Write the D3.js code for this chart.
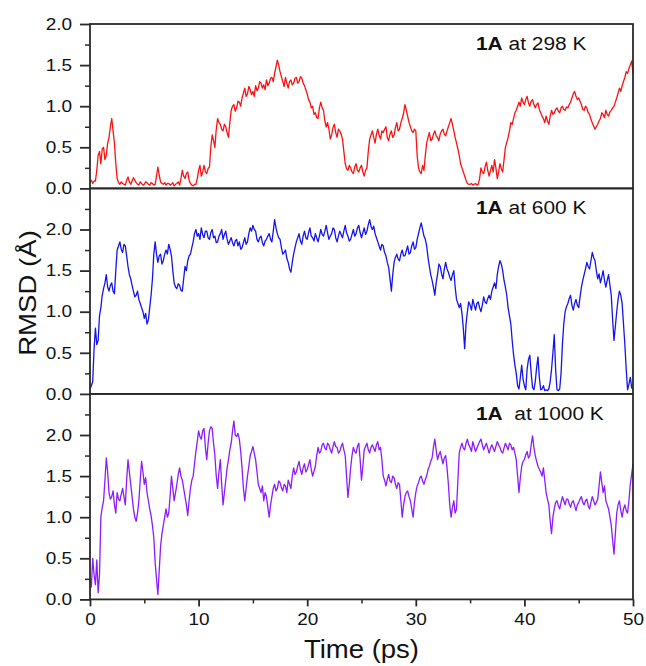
<!DOCTYPE html>
<html>
<head>
<meta charset="utf-8">
<script src="https://cdn.jsdelivr.net/npm/d3@7"></script>
<style>
  body { margin: 0; background: #fff; }
  text { font-family: "Liberation Sans", Arial, sans-serif; }
</style>
</head>
<body>
<script>
const timeStep = 0.125;

const rmsd298 = [
  0.08, 0.10, 0.06, 0.09, 0.09, 0.22, 0.40, 0.45,
  0.30, 0.48, 0.50, 0.35, 0.40, 0.55, 0.62, 0.75,
  0.85, 0.70, 0.55, 0.30, 0.12, 0.07, 0.05, 0.08,
  0.06, 0.05, 0.04, 0.10, 0.14, 0.08, 0.05, 0.09,
  0.13, 0.10, 0.07, 0.05, 0.04, 0.08, 0.06, 0.04,
  0.05, 0.08, 0.07, 0.05, 0.04, 0.07, 0.06, 0.04,
  0.05, 0.15, 0.26, 0.16, 0.08, 0.06, 0.05, 0.07,
  0.04, 0.06, 0.06, 0.04, 0.05, 0.07, 0.03, 0.05,
  0.06, 0.08, 0.04, 0.12, 0.22, 0.15, 0.12, 0.18,
  0.20, 0.10, 0.06, 0.04, 0.03, 0.05, 0.05, 0.12,
  0.22, 0.28, 0.15, 0.20, 0.28, 0.20, 0.18, 0.24,
  0.26, 0.50, 0.65, 0.58, 0.50, 0.72, 0.85, 0.80,
  0.78, 0.72, 0.70, 0.78, 0.75, 0.68, 0.62, 0.80,
  0.95, 1.00, 1.02, 0.94, 0.98, 1.06, 1.05, 1.00,
  1.10, 1.16, 1.22, 1.12, 1.15, 1.24, 1.20, 1.14,
  1.18, 1.12, 1.25, 1.19, 1.22, 1.30, 1.28, 1.22,
  1.26, 1.20, 1.32, 1.25, 1.28, 1.34, 1.35, 1.30,
  1.40, 1.48, 1.56, 1.50, 1.42, 1.36, 1.30, 1.24,
  1.35, 1.28, 1.22, 1.30, 1.32, 1.26, 1.28, 1.34,
  1.35, 1.28, 1.30, 1.36, 1.34, 1.28, 1.25, 1.20,
  1.15, 1.08, 1.05, 0.98, 1.00, 0.90, 0.92, 0.86,
  0.85, 0.98, 1.05, 0.98, 0.95, 0.82, 0.75, 0.80,
  0.72, 0.60, 0.65, 0.74, 0.78, 0.68, 0.62, 0.72,
  0.70, 0.66, 0.60, 0.45, 0.30, 0.24, 0.22, 0.28,
  0.25, 0.20, 0.18, 0.26, 0.30, 0.22, 0.20, 0.25,
  0.28, 0.20, 0.15, 0.22, 0.25, 0.45, 0.60, 0.65,
  0.70, 0.62, 0.55, 0.66, 0.72, 0.65, 0.60, 0.70,
  0.68, 0.72, 0.75, 0.62, 0.58, 0.66, 0.70, 0.62,
  0.65, 0.74, 0.80, 0.70, 0.72, 0.80, 0.85, 0.92,
  1.02, 0.95, 0.88, 0.80, 0.75, 0.70, 0.68, 0.72,
  0.70, 0.40, 0.25, 0.20, 0.18, 0.28, 0.22, 0.40,
  0.55, 0.62, 0.68, 0.58, 0.60, 0.66, 0.70, 0.64,
  0.62, 0.58, 0.66, 0.70, 0.72, 0.66, 0.64, 0.70,
  0.75, 0.80, 0.85, 0.78, 0.70, 0.62, 0.55, 0.48,
  0.40, 0.30, 0.25, 0.20, 0.15, 0.10, 0.06, 0.05,
  0.05, 0.06, 0.04, 0.05, 0.06, 0.04, 0.05, 0.12,
  0.25, 0.20, 0.18, 0.26, 0.32, 0.22, 0.15, 0.22,
  0.28, 0.20, 0.35, 0.25, 0.12, 0.20, 0.30, 0.24,
  0.20, 0.35, 0.50, 0.56, 0.62, 0.70, 0.80, 0.78,
  0.85, 0.92, 0.95, 1.00, 1.05, 1.00, 1.10, 1.05,
  1.02, 1.08, 1.12, 1.04, 1.00, 1.06, 1.08, 1.02,
  0.98, 1.02, 1.04, 0.96, 0.92, 0.88, 0.85, 0.80,
  0.88, 0.82, 0.78, 0.88, 0.95, 0.90, 0.92, 0.96,
  0.98, 0.94, 0.92, 0.98, 1.00, 0.96, 0.95, 0.99,
  0.98, 1.02, 1.05, 1.10, 1.15, 1.18, 1.12, 1.08,
  1.10, 1.06, 1.02, 0.96, 0.95, 1.00, 0.98, 0.92,
  0.90, 0.84, 0.80, 0.76, 0.72, 0.75, 0.78, 0.82,
  0.85, 0.92, 0.90, 0.86, 0.95, 0.90, 0.88, 0.93,
  0.95, 0.98, 1.00, 1.05, 1.10, 1.16, 1.22, 1.18,
  1.25, 1.30, 1.35, 1.42, 1.40, 1.46, 1.50, 1.55,
  1.40
];

const rmsd600 = [
  0.06, 0.10, 0.15, 0.55, 0.80, 0.60, 0.65, 0.95,
  1.05, 1.20, 1.28, 1.35, 1.45, 1.30, 1.25, 1.32,
  1.35, 1.25, 1.22, 1.50, 1.75, 1.80, 1.85, 1.76,
  1.72, 1.82, 1.80, 1.68, 1.55, 1.45, 1.40, 1.32,
  1.25, 1.18, 1.20, 1.25, 1.15, 1.10, 1.05, 1.00,
  0.92, 0.98, 0.85, 0.90, 1.05, 1.20, 1.40, 1.70,
  1.85, 1.70, 1.60, 1.68, 1.70, 1.58, 1.62, 1.70,
  1.75, 1.70, 1.82, 1.76, 1.68, 1.50, 1.35, 1.30,
  1.28, 1.34, 1.32, 1.26, 1.25, 1.40, 1.55, 1.50,
  1.62, 1.68, 1.70, 1.78, 1.85, 1.95, 2.00, 1.92,
  1.95, 1.88, 2.02, 1.94, 1.90, 1.98, 1.98, 1.90,
  1.88, 1.96, 2.00, 1.90, 1.92, 1.84, 1.85, 1.92,
  1.95, 2.00, 1.88, 1.94, 1.98, 1.88, 1.82, 1.86,
  1.90, 1.84, 1.80, 1.86, 1.88, 1.80, 1.85, 1.76,
  1.78, 1.84, 1.90, 1.82, 1.85, 1.95, 2.02, 1.98,
  2.05, 2.00, 1.98, 1.88, 1.85, 1.90, 1.92, 1.84,
  1.80, 1.86, 1.88, 1.92, 1.95, 1.88, 1.85, 1.98,
  2.12, 2.02, 1.95, 1.90, 1.88, 1.78, 1.70, 1.72,
  1.75, 1.65, 1.60, 1.52, 1.48, 1.60, 1.70, 1.78,
  1.85, 1.90, 1.95, 1.86, 1.82, 1.92, 1.98, 1.90,
  1.88, 1.96, 2.02, 1.92, 1.90, 1.86, 1.95, 1.90,
  1.85, 1.92, 2.00, 1.94, 1.92, 1.98, 2.05, 1.96,
  1.88, 1.92, 1.95, 2.02, 2.00, 1.90, 1.85, 1.92,
  1.98, 1.94, 1.90, 1.98, 2.05, 1.96, 1.92, 1.86,
  1.88, 1.94, 2.00, 1.92, 1.95, 2.02, 2.05, 1.96,
  1.90, 1.96, 2.02, 1.94, 1.98, 2.06, 2.12, 2.04,
  2.00, 2.04, 1.95, 1.90, 1.85, 1.80, 1.75, 1.82,
  1.80, 1.72, 1.68, 1.60, 1.54, 1.40, 1.25, 1.45,
  1.60, 1.66, 1.70, 1.64, 1.62, 1.70, 1.75, 1.68,
  1.68, 1.74, 1.80, 1.70, 1.72, 1.80, 1.85, 1.76,
  1.78, 1.88, 1.95, 2.02, 2.08, 2.00, 1.92, 1.88,
  1.80, 1.66, 1.55, 1.45, 1.38, 1.30, 1.20, 1.35,
  1.45, 1.58, 1.55, 1.46, 1.40, 1.52, 1.60, 1.52,
  1.48, 1.42, 1.38, 1.45, 1.50, 1.30, 1.15, 1.10,
  1.05, 1.10, 0.98, 0.80, 0.55, 0.85, 1.00, 1.12,
  1.08, 1.02, 1.15, 1.08, 1.02, 1.10, 1.12, 1.05,
  1.00, 1.08, 1.18, 1.12, 1.10, 1.16, 1.20, 1.15,
  1.25, 1.30, 1.35, 1.28, 1.45, 1.55, 1.62, 1.58,
  1.50, 1.38, 1.30, 1.20, 1.05, 0.95, 0.85, 0.65,
  0.48, 0.35, 0.25, 0.10, 0.06, 0.20, 0.35, 0.18,
  0.10, 0.05, 0.30, 0.42, 0.47, 0.25, 0.08, 0.05,
  0.15, 0.32, 0.45, 0.20, 0.05, 0.06, 0.10, 0.04,
  0.05, 0.04, 0.06, 0.15, 0.30, 0.50, 0.72, 0.30,
  0.05, 0.04, 0.06, 0.25, 0.60, 0.85, 1.00, 1.06,
  1.10, 1.16, 1.20, 1.08, 1.02, 1.10, 1.15, 1.08,
  1.05, 1.18, 1.30, 1.38, 1.45, 1.52, 1.60, 1.55,
  1.52, 1.62, 1.72, 1.66, 1.62, 1.50, 1.40, 1.46,
  1.35, 1.42, 1.50, 1.38, 1.30, 1.38, 1.45, 1.32,
  1.20, 0.90, 0.65, 0.82, 1.00, 1.15, 1.25, 1.20,
  1.10, 0.85, 0.60, 0.30, 0.05, 0.12, 0.20, 0.08,
  0.05
];

const rmsd1000 = [
  0.25, 0.15, 0.50, 0.30, 0.18, 0.48, 0.08, 0.30,
  1.00, 1.12, 1.20, 1.45, 1.72, 1.55, 1.30, 1.22,
  1.25, 1.32, 1.15, 1.05, 1.30, 1.22, 1.20, 1.28,
  1.35, 1.25, 1.15, 1.45, 1.70, 1.55, 1.40, 1.25,
  1.10, 1.00, 0.95, 1.05, 1.20, 1.45, 1.68, 1.55,
  1.40, 1.48, 1.30, 1.20, 1.10, 1.02, 0.90, 0.75,
  0.45, 0.25, 0.06, 0.35, 0.65, 0.80, 0.90, 1.00,
  1.10, 1.00, 1.05, 1.25, 1.50, 1.35, 1.20, 1.30,
  1.40, 1.52, 1.60, 1.50, 1.45, 1.35, 1.25, 1.15,
  1.02, 1.20, 1.35, 1.45, 1.50, 1.65, 1.80, 1.92,
  2.05, 1.98, 1.95, 2.05, 2.08, 1.85, 1.70, 1.90,
  2.05, 2.10, 2.08, 1.90, 1.75, 1.50, 1.35, 1.55,
  1.70, 1.40, 1.15, 1.30, 1.45, 1.60, 1.70, 1.82,
  1.90, 2.05, 2.17, 2.00, 1.98, 2.02, 1.95, 1.80,
  1.60, 1.35, 1.20, 1.35, 1.50, 1.62, 1.75, 1.80,
  1.86, 1.78, 1.70, 1.55, 1.40, 1.35, 1.30, 1.38,
  1.20, 1.30, 1.25, 1.12, 1.00, 1.15, 1.25, 1.35,
  1.40, 1.32, 1.35, 1.44, 1.42, 1.36, 1.32, 1.40,
  1.38, 1.30, 1.45, 1.40, 1.35, 1.50, 1.60, 1.52,
  1.55, 1.62, 1.68, 1.58, 1.52, 1.60, 1.65, 1.55,
  1.58, 1.64, 1.70, 1.58, 1.50, 1.56, 1.62, 1.75,
  1.85, 1.78, 1.80, 1.88, 1.90, 1.84, 1.82, 1.90,
  1.88, 1.82, 1.78, 1.86, 1.92, 1.86, 1.85, 1.78,
  1.80, 1.86, 1.90, 1.82, 1.75, 1.50, 1.24, 1.40,
  1.60, 1.75, 1.85, 1.80, 1.78, 1.86, 1.90, 1.70,
  1.45, 1.62, 1.82, 1.86, 1.90, 1.82, 1.78, 1.85,
  1.88, 1.84, 1.80, 1.88, 1.92, 1.82, 1.85, 1.70,
  1.50, 1.45, 1.38, 1.46, 1.52, 1.44, 1.42, 1.50,
  1.48, 1.40, 1.35, 1.42, 1.40, 1.20, 1.00, 1.15,
  1.25, 1.30, 1.32, 1.25, 1.20, 1.10, 1.00, 1.18,
  1.30, 1.38, 1.42, 1.48, 1.50, 1.44, 1.40, 1.46,
  1.50, 1.58, 1.62, 1.68, 1.72, 1.85, 1.95, 1.82,
  1.70, 1.76, 1.80, 1.72, 1.65, 1.72, 1.75, 1.60,
  1.40, 1.15, 1.00, 1.12, 1.20, 1.05, 1.10, 1.45,
  1.78, 1.85, 1.90, 1.84, 1.82, 1.90, 1.95, 1.88,
  1.85, 1.80, 1.92, 1.86, 1.80, 1.84, 1.88, 1.92,
  1.95, 1.88, 1.82, 1.86, 1.90, 1.84, 1.78, 1.84,
  1.88, 1.84, 1.80, 1.86, 1.92, 1.88, 1.85, 1.80,
  1.78, 1.84, 1.90, 1.86, 1.82, 1.90, 1.88, 1.82,
  1.85, 1.78, 1.70, 1.50, 1.30, 1.48, 1.62, 1.68,
  1.70, 1.76, 1.80, 1.72, 1.75, 1.88, 1.99, 1.85,
  1.75, 1.68, 1.62, 1.58, 1.55, 1.50, 1.60, 1.45,
  1.30, 1.22, 1.15, 0.95, 0.80, 1.00, 1.10, 1.18,
  1.20, 1.14, 1.10, 1.18, 1.25, 1.20, 1.15, 1.22,
  1.22, 1.16, 1.12, 1.18, 1.20, 1.14, 1.08, 1.15,
  1.18, 1.22, 1.25, 1.18, 1.15, 1.20, 1.22, 1.14,
  1.10, 1.18, 1.25, 1.20, 1.15, 1.18, 1.22, 1.38,
  1.55, 1.42, 1.30, 1.38, 1.20, 1.15, 1.10, 1.00,
  0.90, 0.72, 0.55, 0.80, 1.05, 1.15, 1.20, 1.08,
  1.00, 1.10, 1.15, 1.08, 1.05, 1.20, 1.40, 1.52,
  1.65
];

const panelSeries = [rmsd298, rmsd600, rmsd1000];
const panelColours = ['#ff1010', '#1414f0', '#8c1cff'];
const panelTemps = ['at 298 K', 'at 600 K', ' at 1000 K'];
const panelMax = [2.0, 2.5, 2.5];
const yTickValues = [0, 0.5, 1.0, 1.5, 2.0];
const xTickValues = [0, 10, 20, 30, 40, 50];

const W = 646, H = 666;
const plotLeft = 90, plotRight = 633, plotTop = 24;
const unit = 82.2;   // px per Angstrom, same in every panel
const axisColour = '#2a2a2a';

const svg = d3.select('body').append('svg')
  .attr('width', W)
  .attr('height', H);

const x = d3.scaleLinear().domain([0, 50]).range([plotLeft, plotRight]);

let panelTop = plotTop;
panelSeries.forEach((values, i) => {
  const h = panelMax[i] * unit;
  const y = d3.scaleLinear().domain([0, panelMax[i]]).range([panelTop + h, panelTop]);
  drawPanel(values, i, y, panelTop, h);
  panelTop += h;
});
const plotBottom = panelTop;

// x axis at the bottom
const xMajor = svg.append('g')
  .attr('transform', `translate(0 ${plotBottom})`)
  .attr('color', axisColour)
  .call(d3.axisBottom(x).tickValues(xTickValues).tickSize(7).tickPadding(7).tickSizeOuter(0));
xMajor.select('.domain').remove();
xMajor.selectAll('.tick line').attr('stroke-width', 1.8);
xMajor.selectAll('.tick text')
  .attr('font-size', 16.5)
  .attr('fill', '#111')
  .attr('transform', 'scale(1.15,1)');

const xMinor = svg.append('g')
  .attr('transform', `translate(0 ${plotBottom})`)
  .attr('color', axisColour)
  .call(d3.axisBottom(x).tickValues(d3.range(5, 50, 10)).tickSize(4).tickFormat(''));
xMinor.select('.domain').remove();
xMinor.selectAll('.tick line').attr('stroke-width', 1.5);

svg.append('text')
  .attr('transform', `translate(${(plotLeft + plotRight) / 2} 658) scale(1.1,1)`)
  .attr('text-anchor', 'middle')
  .attr('font-size', 25)
  .attr('fill', '#111')
  .text('Time (ps)');

svg.append('text')
  .attr('transform', 'translate(36 293) rotate(-90) scale(1.2,1)')
  .attr('text-anchor', 'middle')
  .attr('font-size', 23)
  .attr('fill', '#111')
  .text('RMSD (Å)');

function drawPanel (values, i, y, y0, h) {
  const g = svg.append('g');

  const line = d3.line()
    .x((d, k) => x(k * timeStep))
    .y(d => y(d));

  g.append('path')
    .datum(values)
    .attr('fill', 'none')
    .attr('stroke', panelColours[i])
    .attr('stroke-width', 1.3)
    .attr('stroke-linejoin', 'round')
    .attr('d', line);

  // frame
  g.append('rect')
    .attr('x', plotLeft)
    .attr('y', y0)
    .attr('width', plotRight - plotLeft)
    .attr('height', h)
    .attr('fill', 'none')
    .attr('stroke', axisColour)
    .attr('stroke-width', 1.8);

  const stretch = 1.15;
  const major = g.append('g')
    .attr('transform', `translate(${plotLeft} 0)`)
    .attr('color', axisColour)
    .call(d3.axisLeft(y)
      .tickValues(yTickValues)
      .tickSize(10)
      .tickPadding(18 / stretch - 10)
      .tickSizeOuter(0)
      .tickFormat(d3.format('.1f')));
  major.select('.domain').remove();
  major.selectAll('.tick line').attr('stroke-width', 1.8);
  major.selectAll('.tick text')
    .attr('font-size', 16.5)
    .attr('fill', '#111')
    .attr('transform', `scale(${stretch},1)`);

  const minor = g.append('g')
    .attr('transform', `translate(${plotLeft} 0)`)
    .attr('color', axisColour)
    .call(d3.axisLeft(y)
      .tickValues(d3.range(0.25, panelMax[i], 0.5))
      .tickSize(5)
      .tickFormat(''));
  minor.select('.domain').remove();
  minor.selectAll('.tick line').attr('stroke-width', 1.5);

  const label = g.append('text')
    .attr('transform', `translate(476 ${y0 + 26}) scale(1.1,1)`)
    .attr('font-size', 19)
    .attr('fill', '#111')
    .attr('xml:space', 'preserve');
  label.append('tspan').attr('font-weight', 'bold').text('1A');
  label.append('tspan').text(' ' + panelTemps[i]);
}
</script>
</body>
</html>
